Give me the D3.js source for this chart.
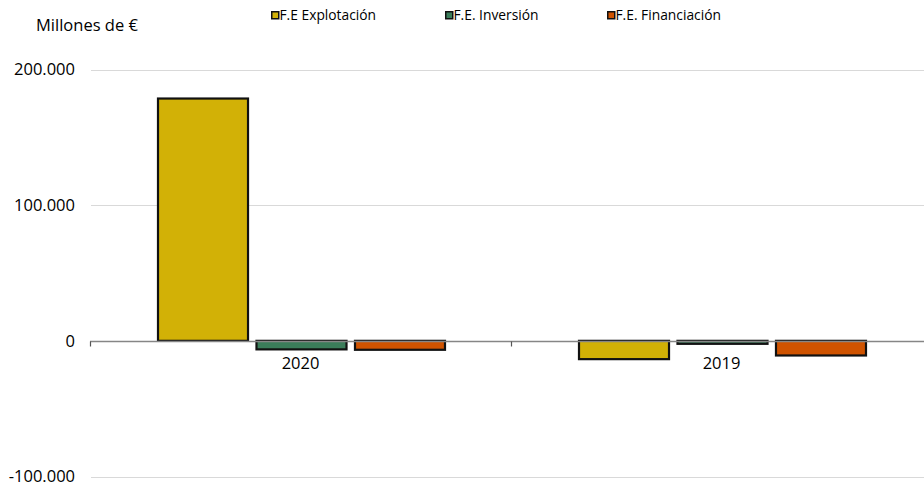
<!DOCTYPE html>
<html>
<head>
<meta charset="utf-8">
<script src="https://cdn.jsdelivr.net/npm/d3@7"></script>
<style>
  html, body { margin: 0; padding: 0; background: #fff; }
  svg { display: block; font-family: "Open Sans", "Noto Sans", sans-serif; }
</style>
</head>
<body>
<svg id="chart" width="924" height="488"></svg>
<script>
const categories = ["2020", "2019"];
const seriesNames = ["F.E Explotación", "F.E. Inversión", "F.E. Financiación"];
const explotacion = [178600, -13500];
const inversion = [-6300, -2200];
const financiacion = [-6600, -10800];
const colors = ["#D2B106", "#3B7D5A", "#CF5300"];
const yTicks = [-100000, 0, 100000, 200000];
const tickLabels = ["-100.000", "0", "100.000", "200.000"];
const unitLabel = "Millones de €";

const seriesValues = [explotacion, inversion, financiacion];

const svg = d3.select("#chart");
const W = 924, H = 488;
const left = 90;

const y = d3.scaleLinear().domain([-100000, 200000]).range([476.5, 69.5]);
const x0 = d3.scaleBand().domain(categories).range([left, 932]).padding(0);
const x1 = d3.scaleBand().domain(seriesNames)
  .range([68, 355]).paddingInner(0.086).paddingOuter(0);

// gridlines
svg.append("g").selectAll("line")
  .data(yTicks.filter(t => t !== 0))
  .join("line")
  .attr("x1", left + 1).attr("x2", W)
  .attr("y1", d => Math.round(y(d)) + 0.5).attr("y2", d => Math.round(y(d)) + 0.5)
  .attr("stroke", "#d9d9d9").attr("stroke-width", 1.2);

// y tick labels
svg.append("g").selectAll("text")
  .data(yTicks)
  .join("text")
  .attr("x", 75).attr("y", d => y(d))
  .attr("dy", "0.35em")
  .attr("text-anchor", "end")
  .attr("font-size", 16.5)
  .attr("fill", "#000")
  .text((d, i) => tickLabels[i]);

// unit label
svg.append("text")
  .attr("x", 36).attr("y", 25).attr("dy", "0.35em")
  .attr("font-size", 16.5).attr("fill", "#000")
  .text(unitLabel);

// bars
const groups = svg.append("g").selectAll("g")
  .data(categories)
  .join("g")
  .attr("transform", d => `translate(${x0(d)},0)`);

groups.selectAll("rect")
  .data((c, ci) => seriesNames.map((s, si) => ({ s, si, v: seriesValues[si][ci] })))
  .join("rect")
  .attr("x", d => x1(d.s))
  .attr("width", x1.bandwidth())
  .attr("y", d => y(Math.max(0, d.v)))
  .attr("height", d => Math.abs(y(d.v) - y(0)))
  .attr("fill", d => colors[d.si])
  .attr("stroke", "#111")
  .attr("stroke-width", 2.2);

// zero axis
const zy = Math.round(y(0)) + 0.5;
svg.append("line")
  .attr("x1", left).attr("x2", W)
  .attr("y1", zy).attr("y2", zy)
  .attr("stroke", "#868686").attr("stroke-width", 1.5);
svg.append("g").selectAll("line")
  .data([left, x0.step() + left])
  .join("line")
  .attr("x1", d => d + 0.5).attr("x2", d => d + 0.5)
  .attr("y1", zy).attr("y2", zy + 5)
  .attr("stroke", "#555").attr("stroke-width", 1.2);

// category labels
svg.append("g").selectAll("text")
  .data(categories)
  .join("text")
  .attr("x", d => x0(d) + x0.bandwidth() / 2)
  .attr("y", 363).attr("dy", "0.35em")
  .attr("text-anchor", "middle")
  .attr("font-size", 16.5)
  .attr("fill", "#000")
  .text(d => d);

// legend
const legendX = [271, 445, 607];
const legend = svg.append("g").selectAll("g")
  .data(seriesNames)
  .join("g")
  .attr("transform", (d, i) => `translate(${legendX[i]},11)`);
legend.append("rect")
  .attr("x", 0.75).attr("y", 0.75).attr("width", 7).attr("height", 7)
  .attr("fill", (d, i) => colors[i])
  .attr("stroke", "#111").attr("stroke-width", 1.5);
legend.append("text")
  .attr("x", 8.5).attr("y", 4.5).attr("dy", "0.35em")
  .attr("font-size", 13.8).attr("fill", "#000")
  .text(d => d);
</script>
</body>
</html>
